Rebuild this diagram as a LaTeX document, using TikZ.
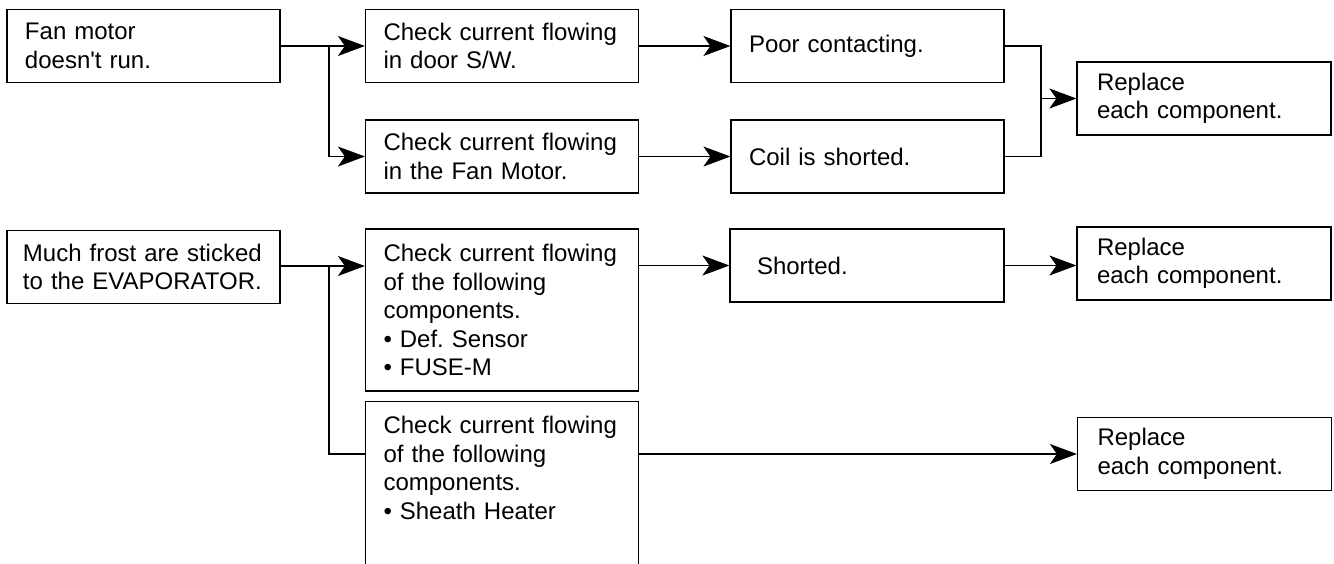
\documentclass[tikz,border=0pt]{standalone}
\usepackage{fontspec}
\setmainfont{Liberation Sans}
\usetikzlibrary{arrows.meta}
\frenchspacing
\hyphenpenalty=10000
\exhyphenpenalty=10000

\tikzset{
  blk/.style={draw, align=left, inner xsep=9pt, inner ysep=0pt,
    text width=118.5pt, minimum height=36.5pt,
    font=\fontsize{12pt}{14.25pt}\selectfont},
  rep/.style={blk, inner xsep=10pt, text width=107pt}
}

\begin{document}
\begin{tikzpicture}[x=0.5pt,y=-0.5pt,line width=0.6pt,
  >={Stealth[length=13.5pt,width=10pt,inset=3.5pt]}]
\useasboundingbox (0,0) rectangle (1334,563);
\clip (0,0) rectangle (1334,563);

% fan motor
\node[blk] (fan) at (143.5,46) {Fan motor\\doesn\textquotesingle t run.};
\node[blk] (door) at (502,46) {Check current flowing\\in door S/W.};
\node[blk] (motor) at (502,156.5) {Check current flowing\\in the Fan Motor.};
\node[blk] (poor) at (867.5,46) {Poor contacting.};
\node[blk] (coil) at (867.5,156.5) {Coil is shorted.};
\node[rep] (rep1) at (1204,98.5) {Replace\\each component.};
\coordinate (j1) at (329,46);
\coordinate (j2) at (1041,98.5);

\draw (fan) -- (j1);
\draw[->] (j1) -- (door);
\draw[->] (j1) |- (motor);
\draw[->] (door) -- (poor);
\draw[->] (motor) -- (coil);
\draw (poor) -| (j2) |- (coil);
\draw[->] (j2) -- (rep1);

% frost on evaporator
\node[blk, inner xsep=8pt, text width=120.5pt] (frost) at (143.5,267) {Much frost are sticked\\to the EVAPORATOR.};
\node[blk, minimum height=81pt] (sensor) at (502,310) {Check current flowing\\of the following\\components.\\• Def. Sensor\\• FUSE-M};
\node[blk, anchor=north, text height=16pt, text depth=80pt] (heater) at (502,401) {Check current flowing\\of the following\\components.\\• Sheath Heater};
\node[blk, inner xsep=13.5pt, text width=110pt] (shorted) at (867,265.5) {Shorted.};
\node[rep] (rep2) at (1204,263.5) {Replace\\each component.};
\node[rep] (rep3) at (1204.5,454) {Replace\\each component.};
\coordinate (j3) at (329,266);

\draw (frost.east |- j3) -- (j3);
\draw[->] (j3) -- (j3 -| sensor.west);
\draw (j3) |- (heater.west |- rep3);
\draw[->] (sensor.east |- shorted) -- (shorted);
\draw[->] (shorted) -- (shorted -| rep2.west);
\draw[->] (heater.east |- rep3) -- (rep3);
\end{tikzpicture}
\end{document}
